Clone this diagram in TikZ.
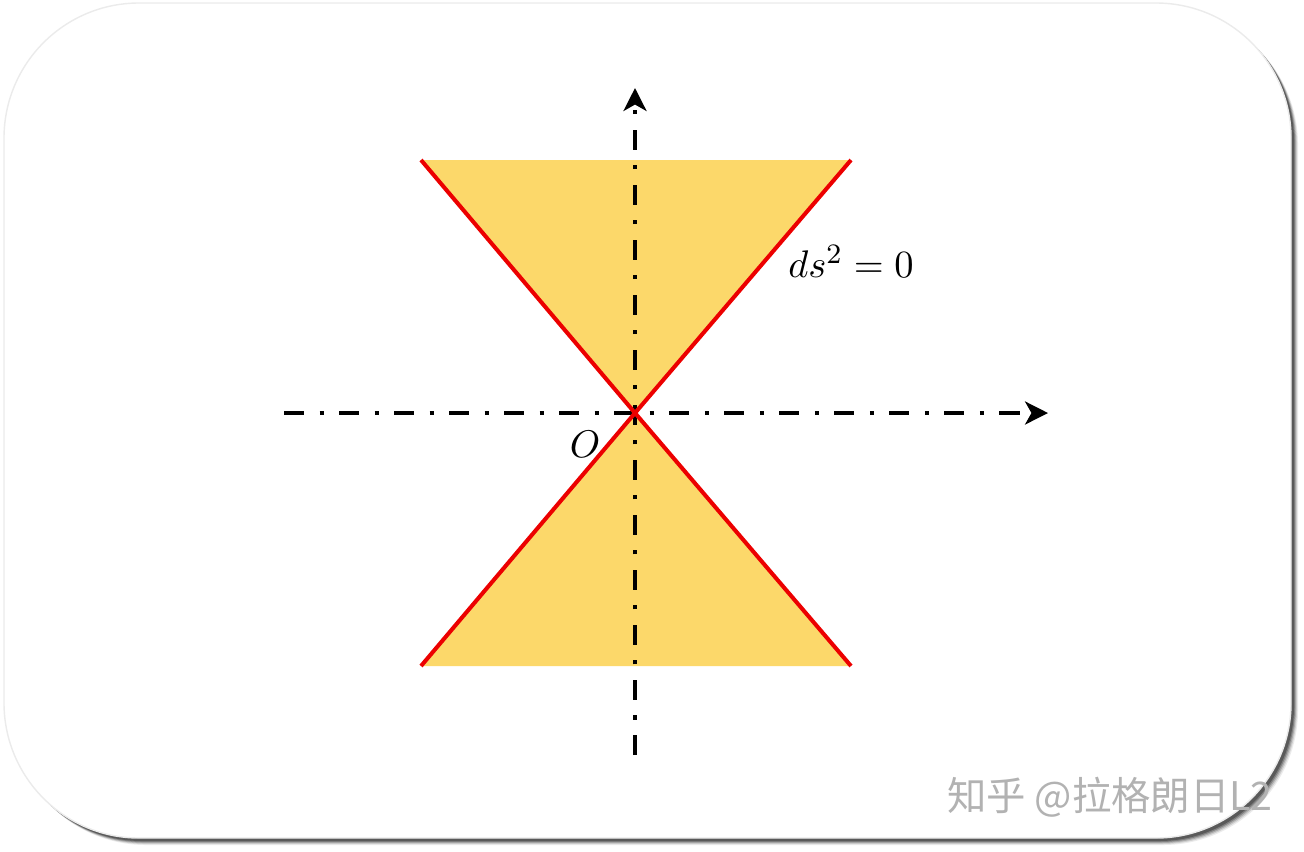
\documentclass[tikz,border=0pt]{standalone}
\usepackage{fontspec}
\newfontfamily\cjkfont{Noto Sans CJK SC}
\usetikzlibrary{positioning,arrows.meta}
\definecolor{conefill}{RGB}{252,216,106}
\definecolor{conered}{RGB}{236,0,0}
\tikzset{%
card/.style={fill=white,draw=black!8,rounded corners=1.35cm},
cardshadow/.style={fill=black,rounded corners=1.35cm},
axis/.style={line width=1.3pt,dash pattern=on 5.7pt off 4.4pt on 1.15pt off 4.4pt,
  -{Stealth[length=6.5pt,width=6.5pt,inset=1.8pt]}},
lightray/.style={conered,line width=1.15pt},
cone/.style={fill=conefill},
mathlabel/.style={font=\fontsize{11}{13}\selectfont,inner sep=2pt},
watermark/.style={font=\cjkfont\fontsize{11.2}{13}\selectfont,text=black!30,inner sep=0pt}
}

\begin{document}
\begin{tikzpicture}[x=0.01cm,y=-0.01cm]
    \useasboundingbox (0,0) rectangle (1304,851);

    % card with soft shadow
    \foreach \s/\o in {7/0.08,6/0.12,5/0.18,4/0.25,3/0.3}
      \fill[cardshadow,opacity=\o] (4+\s,3+\s) rectangle (1291+\s,838+\s);
    \path[card] (4,3) rectangle (1291,838);

    \coordinate (origin) at (635,413);
    \coordinate (ul) at (421,160);
    \coordinate (ur) at (851,160);
    \coordinate (ll) at (421,666);
    \coordinate (lr) at (851,666);
    \coordinate (xstart) at (284,413);
    \coordinate (xend) at (1048,413);
    \coordinate (ystart) at (635,755);
    \coordinate (yend) at (635,88);

    % light cone
    \fill[cone] (ul) -- (ur) -- (origin) -- cycle;
    \fill[cone] (ll) -- (lr) -- (origin) -- cycle;

    \draw[axis] (xstart) -- (xend);
    \draw[axis] (ystart) -- (yend);

    \draw[lightray] (ul) -- (origin) -- (lr);
    \draw[lightray] (ur) -- (origin) -- (ll);

    \node[mathlabel,below=0.78cm of ur] (null) {$ds^2=0$};
    \node[mathlabel,below left=0.1cm and 0.27cm of origin] (olbl) {$O$};

    \node[watermark] (mark) at (1110,797) {知乎 @拉格朗日L2};

  \end{tikzpicture}
\end{document}
